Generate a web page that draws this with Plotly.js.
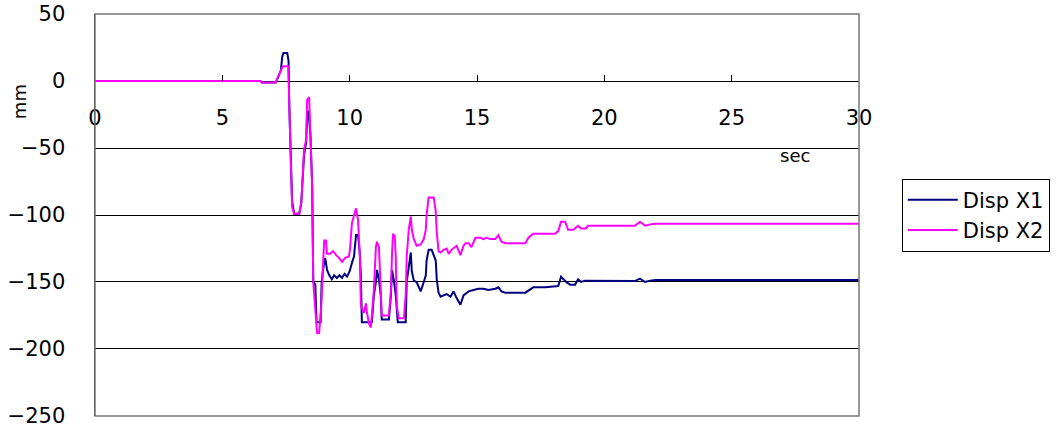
<!DOCTYPE html>
<html><head><meta charset="utf-8">
<script src="https://cdn.plot.ly/plotly-3.0.1.min.js"></script>
<style>body{margin:0;background:#fff}#c{width:1062px;height:430px}</style>
</head><body><div id="c"></div>
<script>
const x1Time = [0,6.5,6.55,7.1,7.15,7.25,7.3,7.35,7.4,7.55,7.6,7.63,7.71,7.74,7.82,8.02,8.10,8.14,8.21,8.29,8.33,8.38,8.42,8.46,8.53,8.57,8.65,8.70,8.86,8.90,8.96,9.04,9.11,9.20,9.30,9.39,9.50,9.60,9.70,9.80,9.90,10.0,10.10,10.17,10.25,10.33,10.40,10.44,10.48,10.87,10.95,11.03,11.07,11.15,11.22,11.26,11.54,11.62,11.66,11.73,11.81,11.89,12.20,12.24,12.32,12.40,12.44,12.52,12.63,12.79,12.91,12.99,13.02,13.10,13.22,13.38,13.42,13.49,13.57,13.69,13.81,13.96,14.08,14.20,14.35,14.47,14.59,14.67,14.86,15.05,15.25,15.45,15.72,15.84,15.96,16.11,16.90,17.13,17.21,17.68,18.19,18.30,18.50,18.66,18.85,18.97,19.09,19.24,19.36,21.2,21.4,21.6,21.8,22.0,30];
const x1Disp = [0,0,-1,-1,1,5,8,18,21,21,15,-19,-60,-90,-99,-99,-91,-76,-55,-46,-26,-22,-30,-40,-80,-150,-152,-180,-180,-150,-140,-132,-141,-145,-148,-145,-147,-145,-147,-144,-146,-142,-135,-131,-115,-115,-129,-146,-180,-180,-160,-150,-141,-148,-160,-178,-178,-160,-141,-148,-160,-180,-180,-150,-139,-128,-142,-149,-150,-157,-150,-145,-134,-126,-126,-134,-148,-158,-161,-160,-159,-161,-157,-162,-167,-160,-158,-157,-156,-155,-155,-156,-155,-154,-157,-158,-158,-155,-154,-154,-153,-146,-150,-152,-152,-148,-150,-149,-149,-149.3,-147.5,-150,-149,-148.5,-148.5];

const x2Time = [0,6.5,6.55,7.1,7.16,7.24,7.31,7.35,7.39,7.59,7.63,7.71,7.74,7.82,8.02,8.10,8.14,8.21,8.29,8.33,8.41,8.45,8.53,8.57,8.65,8.72,8.80,8.88,8.96,9.00,9.07,9.11,9.23,9.35,9.47,9.58,9.70,9.82,9.97,10.01,10.09,10.17,10.25,10.33,10.40,10.44,10.56,10.64,10.68,10.76,10.83,10.87,10.95,11.03,11.07,11.15,11.22,11.26,11.54,11.62,11.66,11.70,11.77,11.81,11.85,11.93,12.13,12.20,12.24,12.32,12.40,12.44,12.52,12.63,12.79,12.91,12.99,13.02,13.10,13.30,13.38,13.42,13.49,13.57,13.69,13.81,13.89,14.0,14.20,14.28,14.35,14.47,14.55,14.67,14.78,14.94,15.14,15.25,15.37,15.53,15.72,15.84,15.96,16.11,16.90,17.02,17.21,17.60,18.07,18.19,18.30,18.46,18.58,18.78,18.97,19.09,19.28,19.36,21.2,21.4,21.6,21.8,22.0,30];
const x2Disp = [0,0,-1,-1,2,6,8,10,11,11,-19,-64,-94,-99,-99,-91,-76,-51,-44,-14,-12,-35,-81,-150,-175,-188,-188,-170,-135,-119,-119,-129,-129,-127,-130,-132,-135,-132,-131,-126,-106,-101,-95,-104,-131,-168,-173,-166,-173,-181,-184,-176,-156,-124,-120,-124,-163,-175,-175,-156,-131,-114,-116,-131,-168,-177,-177,-160,-131,-111,-101,-111,-118,-123,-122,-118,-111,-100,-87,-87,-97,-113,-127,-128,-126,-125,-129,-126,-123,-127,-130,-123,-121,-121,-124,-117,-117,-118,-117,-118,-118,-115,-120,-121,-121,-117,-114,-114,-114,-112,-105,-105,-111,-111,-108,-110,-110,-108,-108,-105,-108,-107,-106.5,-106.5];

const seriesNames = ['Disp X1','Disp X2'];
const xTicks = [0,5,10,15,20,25,30];
const yTicks = [50,0,-50,-100,-150,-200,-250];

const font = "'DejaVu Sans', sans-serif";
const traces = [
  {x:x1Time, y:x1Disp, name:seriesNames[0], mode:'lines', line:{color:'#000080', width:2}},
  {x:x2Time, y:x2Disp, name:seriesNames[1], mode:'lines', line:{color:'#FF00FF', width:2}}
];
const layout = {
  width:1062, height:430,
  margin:{l:95, r:200, t:14, b:14},
  paper_bgcolor:'#fff', plot_bgcolor:'#fff',
  font:{family:font, color:'#000', size:21},
  showlegend:true,
  legend:{x:1.056, y:0.50, xanchor:'left', yanchor:'middle', bordercolor:'#000', borderwidth:1, bgcolor:'#fff',
          font:{size:21, family:font}, tracegroupgap:0, itemwidth:50},
  xaxis:{range:[0,30], tickvals:xTicks, anchor:'free', position:250/300, showgrid:false, zeroline:false,
         showline:false, ticks:'inside', ticklen:6, tickcolor:'#000', ticklabelstandoff:22,
         tickfont:{size:21, family:font}},
  yaxis:{range:[-250.05,50.05], tickvals:yTicks, showgrid:true, gridcolor:'#000', gridwidth:1, zeroline:true, zerolinecolor:'#000', zerolinewidth:1,
         showline:true, linecolor:'#333', linewidth:1.5, ticks:'', ticklabelstandoff:24,
         tickfont:{size:21, family:font}},
  shapes:[{type:'rect', xref:'paper', yref:'paper', x0:0, x1:1, y0:0, y1:1, line:{color:'#777', width:1.5}}],
  annotations:[
    {text:'sec', xref:'paper', yref:'paper', x:(815-95)/767, y:(416-156)/402, showarrow:false, font:{size:18, family:font}},
    {text:'mm', xref:'paper', yref:'paper', x:-0.098, xshift:-13, y:(416-82)/402, textangle:-90, showarrow:false, font:{size:18, family:font}}
  ]
};
Plotly.newPlot('c', traces, layout, {displayModeBar:false, staticPlot:true});
</script></body></html>
